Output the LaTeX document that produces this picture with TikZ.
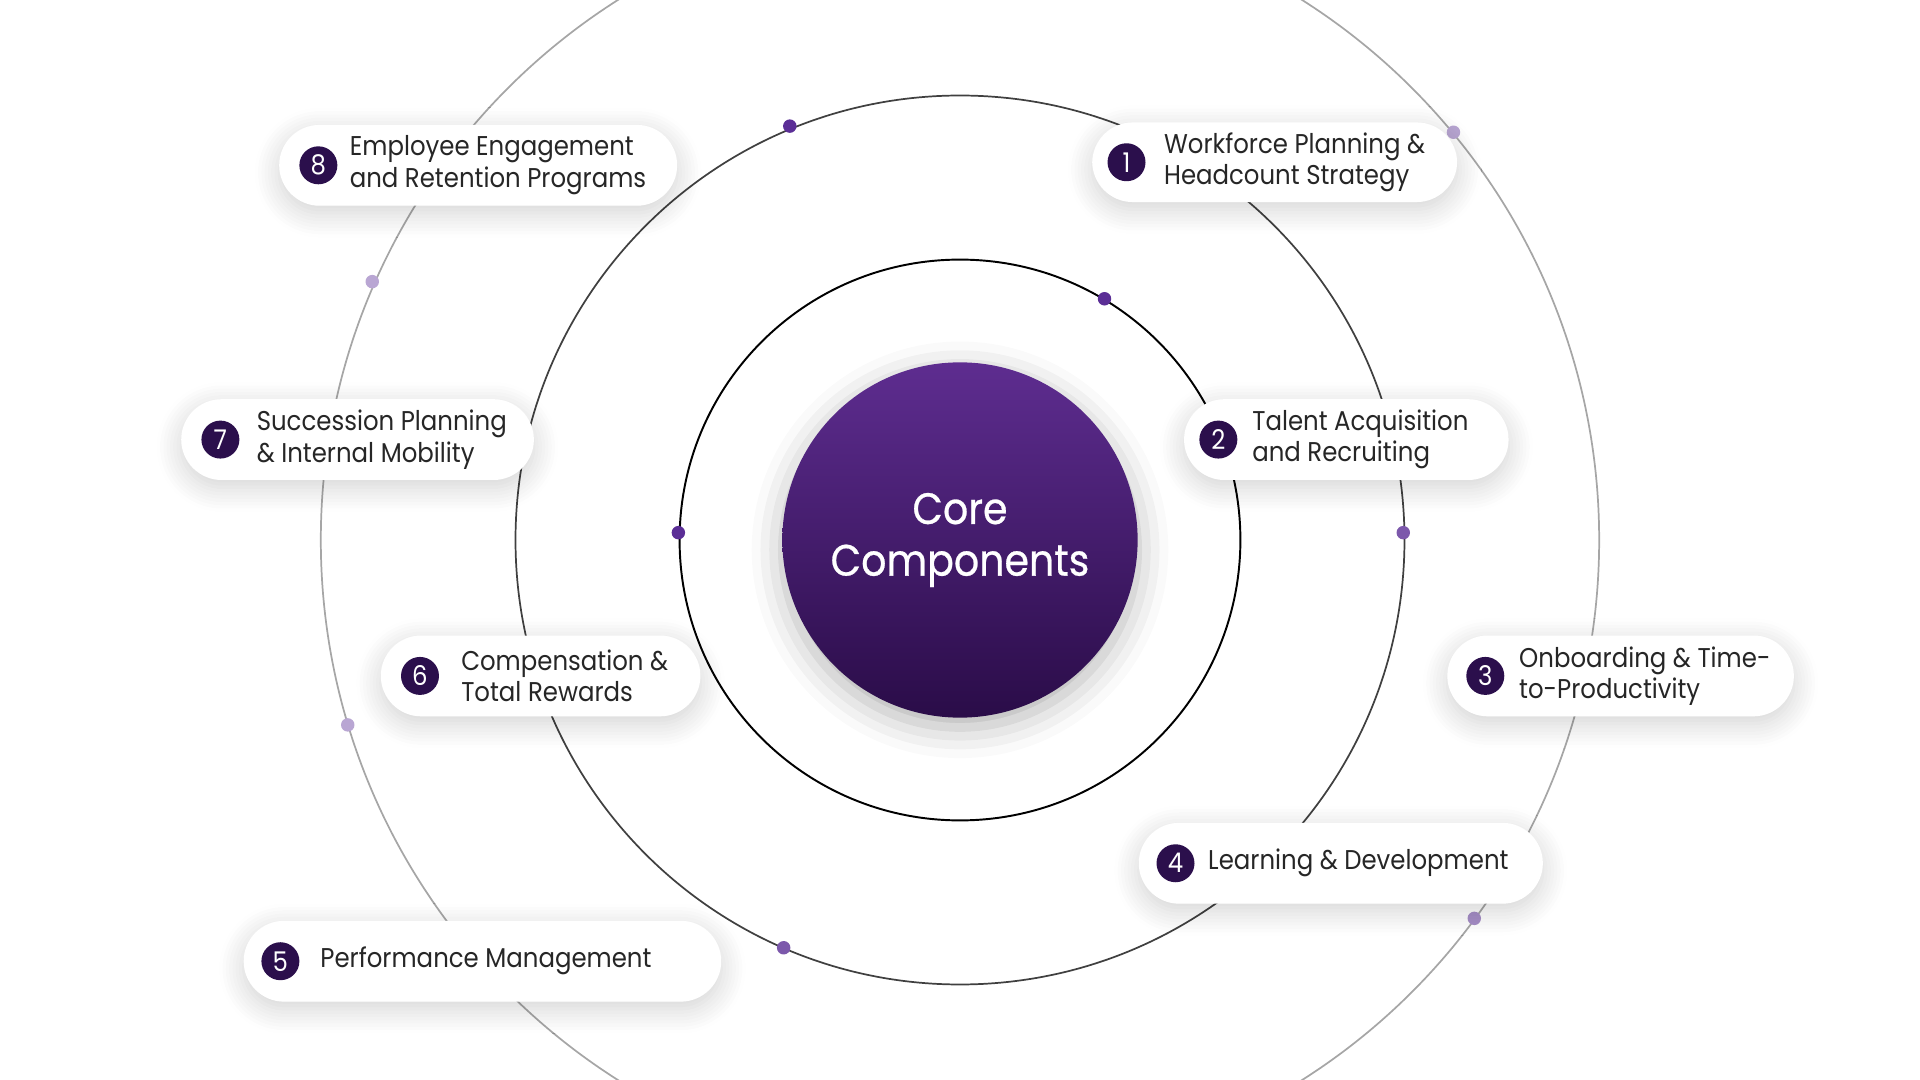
\documentclass[tikz,border=0pt]{standalone}
\usepackage{fontspec}
\setmainfont{Poppins}[FakeStretch=0.9]
\usetikzlibrary{shadows,shadows.blur}
\definecolor{dp}{HTML}{2B0F4C}
\definecolor{ctop}{HTML}{5E2D90}
\definecolor{cbot}{HTML}{2A0C48}
\definecolor{dotc}{HTML}{5B2E96}
\definecolor{dotl}{HTML}{B9A6D3}
\tikzset{
 pill/.style={draw=none,fill=white,rounded corners=0.33cm,blur shadow={shadow blur steps=8,shadow xshift=0pt,shadow yshift=-0.06cm,shadow opacity=18,shadow blur radius=0.2cm}},
 num/.style={circle,fill=dp,text=white,minimum size=0.31cm,inner sep=0pt,font=\fontsize{6.3}{7}\selectfont},
 lab/.style={anchor=west,align=left,inner sep=0pt,font=\fontsize{6.3}{7.3}\selectfont,text=black!85},
 dot/.style={circle,fill=dotc,inner sep=0pt,minimum size=0.11cm},
 ldot/.style={circle,fill=dotl,inner sep=0pt,minimum size=0.11cm},
}
\begin{document}
\begin{tikzpicture}[x=0.01cm,y=-0.01cm]
\useasboundingbox (0,0) rectangle (1568,882);
\clip (0,0) rectangle (1568,882);
\coordinate (c) at (784,441);
\draw[black!35,line width=0.4pt] (c) circle[radius=522];
\draw[black!75,line width=0.4pt] (c) circle[radius=363];
\draw[black,line width=0.45pt] (c) circle[radius=229];
\node[dot] (d1) at (902,244) {};
\node[dot] (d2) at (554,435) {};
\node[dot] (d3) at (645,103) {};
\node[dot,fill=dotc!80] (d4) at (1146,435) {};
\node[dot,fill=dotc!80] (d5) at (640,774) {};
\node[ldot] (d6) at (1187,108) {};
\node[ldot] (d7) at (304,230) {};
\node[ldot] (d8) at (284,592) {};
\node[ldot,fill=dotl!80!dotc] (d9) at (1204,750) {};
\node[circle,minimum size=2.9cm,inner sep=0pt,top color=ctop,bottom color=cbot,draw=none,
 blur shadow={shadow xshift=0pt,shadow yshift=-0.08cm,shadow opacity=30,shadow blur radius=0.25cm},
 text=white,align=center,font=\fontsize{10.2}{12}\selectfont] (core) at (c) {\addfontfeature{FakeBold=0.6}Core\\\addfontfeature{FakeBold=0.6}Components};
\newcommand{\pillx}[8]{%
 \fill[pill] (#1,#2) rectangle (#3,#4);
 \node[num] (n#5) at (#6,{(#2+#4)/2}) {#5};
 \node[lab] (t#5) at (#7,{(#2+#4)/2}) {#8};}
\pillx{892}{100}{1190}{165}{1}{920}{950}{Workforce Planning \&\\Headcount Strategy}
\pillx{967}{326}{1232}{392}{2}{995}{1022}{Talent Acquisition\\and Recruiting}
\pillx{1182}{519}{1465}{585}{3}{1213}{1240}{Onboarding \& Time-\\to-Productivity}
\pillx{930}{672}{1260}{738}{4}{960}{986}{Learning \& Development}
\pillx{199}{752}{589}{818}{5}{229}{261}{Performance Management}
\pillx{311}{519}{572}{585}{6}{343}{376}{Compensation \&\\Total Rewards}
\pillx{148}{326}{436}{392}{7}{180}{209}{Succession Planning\\\& Internal Mobility}
\pillx{228}{102}{553}{168}{8}{260}{285}{Employee Engagement\\and Retention Programs}
\end{tikzpicture}
\end{document}
